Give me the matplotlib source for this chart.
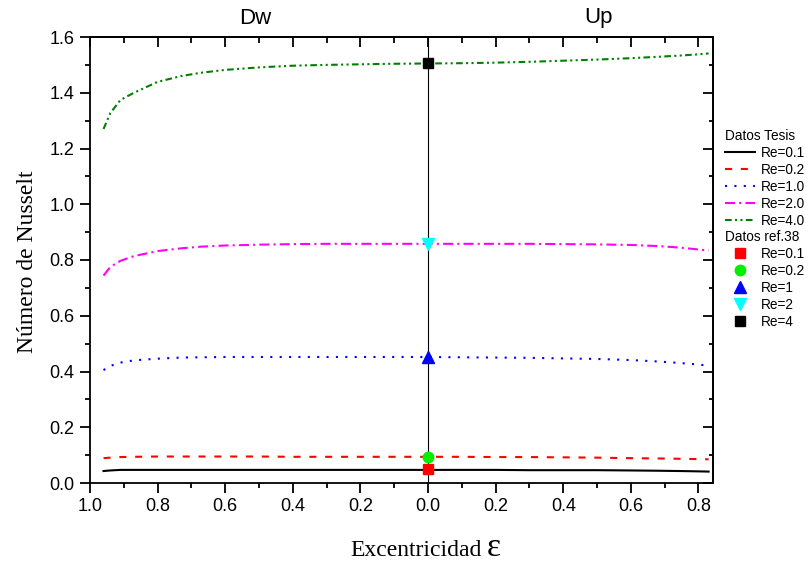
import matplotlib
matplotlib.use("Agg")
import matplotlib.pyplot as plt
import numpy as np

# ---------------- data ----------------
# signed eccentricity: negative = "Dw" side, positive = "Up" side
ecc = [-0.96, -0.94, -0.91, -0.87, -0.80, -0.73, -0.67, -0.60, -0.50, -0.40,
       -0.30, -0.20, -0.10, 0.0, 0.10, 0.20, 0.30, 0.40, 0.50, 0.60,
       0.68, 0.74, 0.79, 0.83]

nu_re01 = [0.043, 0.045, 0.047, 0.047, 0.047, 0.047, 0.047, 0.047, 0.047, 0.047,
           0.047, 0.047, 0.047, 0.047, 0.047, 0.047, 0.046, 0.046, 0.046, 0.045,
           0.044, 0.043, 0.042, 0.041]
nu_re02 = [0.089, 0.091, 0.093, 0.094, 0.095, 0.095, 0.095, 0.095, 0.095, 0.094,
           0.094, 0.094, 0.094, 0.094, 0.094, 0.093, 0.093, 0.092, 0.091, 0.089,
           0.088, 0.087, 0.086, 0.085]
nu_re10 = [0.405, 0.420, 0.432, 0.440, 0.446, 0.450, 0.451, 0.452, 0.452, 0.452,
           0.452, 0.452, 0.452, 0.452, 0.451, 0.450, 0.449, 0.447, 0.445, 0.441,
           0.436, 0.431, 0.426, 0.421]
nu_re20 = [0.744, 0.775, 0.797, 0.814, 0.832, 0.842, 0.848, 0.852, 0.855, 0.857,
           0.858, 0.858, 0.858, 0.858, 0.858, 0.858, 0.858, 0.857, 0.856, 0.854,
           0.850, 0.845, 0.839, 0.834]
nu_re40 = [1.270, 1.327, 1.374, 1.400, 1.439, 1.460, 1.472, 1.482, 1.491, 1.497,
           1.500, 1.502, 1.504, 1.505, 1.506, 1.508, 1.511, 1.515, 1.519, 1.524,
           1.529, 1.533, 1.537, 1.541]

tesis_labels = ["Re=0.1", "Re=0.2", "Re=1.0", "Re=2.0", "Re=4.0"]

ref_ecc = [0.0, 0.0, 0.0, 0.0, 0.0]
ref_nu = [0.049, 0.093, 0.451, 0.857, 1.507]
ref_labels = ["Re=0.1", "Re=0.2", "Re=1", "Re=2", "Re=4"]

xtick_vals = [-1.0, -0.8, -0.6, -0.4, -0.2, 0.0, 0.2, 0.4, 0.6, 0.8]
xtick_labels = ["1.0", "0.8", "0.6", "0.4", "0.2", "0.0", "0.2", "0.4", "0.6", "0.8"]
ytick_vals = [0.0, 0.2, 0.4, 0.6, 0.8, 1.0, 1.2, 1.4, 1.6]
ytick_labels = ["0.0", "0.2", "0.4", "0.6", "0.8", "1.0", "1.2", "1.4", "1.6"]

# ---------------- figure ----------------
SANS = "Liberation Sans"
SERIF = "Liberation Serif"
plt.rcParams["font.family"] = [SANS, "DejaVu Sans"]

W, H = 810, 564
fig = plt.figure(figsize=(W / 100, H / 100), dpi=100)
L, R, T, B = 90, 713, 37, 483
ax = fig.add_axes([L / W, 1 - B / H, (R - L) / W, (B - T) / H])

lw = 1.5
ax.axvline(0.0, color="black", lw=0.8, zorder=1)

line_styles = [
    dict(color="black", ls="-"),
    dict(color="#ff0000", ls=(0, (3.4, 4.2))),
    dict(color="#0000ff", ls=(0, (1.0, 3.5))),
    dict(color="#ff00ff", ls=(0, (4.8, 2.0, 1.0, 2.0))),
    dict(color="#008000", ls=(0, (3.2, 1.6, 1.0, 1.6, 1.0, 1.6))),
]
series = [nu_re01, nu_re02, nu_re10, nu_re20, nu_re40]
tesis_handles = []
for ys, st, lab in zip(series, line_styles, tesis_labels):
    h, = ax.plot(ecc, ys, color=st["color"], linestyle=st["ls"], lw=lw, label=lab, zorder=2)
    tesis_handles.append(h)

marker_styles = [
    dict(marker="s", color="#ff0000", ms=6.5),
    dict(marker="o", color="#00ee00", ms=7.5),
    dict(marker="^", color="#0000ff", ms=8),
    dict(marker="v", color="#00ffff", ms=8),
    dict(marker="s", color="black", ms=6.5),
]
ref_handles = []
for x, y, st, lab in zip(ref_ecc, ref_nu, marker_styles, ref_labels):
    h, = ax.plot([x], [y], linestyle="none", marker=st["marker"], color=st["color"],
                 ms=st["ms"], mec=st["color"], label=lab, zorder=3)
    ref_handles.append(h)

ax.set_xlim(-1.0, 0.843)
ax.set_ylim(0.0, 1.6)
ax.set_xticks(xtick_vals)
ax.set_xticklabels(xtick_labels)
ax.set_xticks(np.arange(-0.9, 0.85, 0.2), minor=True)
ax.set_yticks(ytick_vals)
ax.set_yticklabels(ytick_labels)
ax.set_yticks(np.arange(0.1, 1.6, 0.2), minor=True)

for sp in ax.spines.values():
    sp.set_linewidth(1.3)

ax.tick_params(axis="both", which="major", direction="out", length=7, width=1.3,
               labelsize=13, pad=4)
ax.tick_params(axis="both", which="minor", direction="out", length=3.6, width=1.3)

# top and right ticks pointing inward
top = ax.secondary_xaxis("top")
top.set_xticks(xtick_vals)
top.set_xticks(np.arange(-0.9, 0.85, 0.2), minor=True)
top.tick_params(which="major", direction="in", length=7, width=1.3, labeltop=False)
top.tick_params(which="minor", direction="in", length=4, width=1.3)
top.spines["top"].set_linewidth(1.3)
right = ax.secondary_yaxis("right")
right.set_yticks(ytick_vals)
right.set_yticks(np.arange(0.1, 1.6, 0.2), minor=True)
right.tick_params(which="major", direction="in", length=7, width=1.3, labelright=False)
right.tick_params(which="minor", direction="in", length=3.2, width=1.3)
right.spines["right"].set_linewidth(1.3)

# axis labels
fig.text(28 / W, 1 - 262 / H, "Número de Nusselt", rotation=90, ha="center",
         va="center", fontsize=17, family=[SERIF, "DejaVu Serif"])
fig.text(482 / W, 1 - 556 / H, "Excentricidad", ha="right", va="baseline",
         fontsize=17, family=[SERIF, "DejaVu Serif"])
fig.text(487 / W, 1 - 556 / H, "ε", ha="left", va="baseline",
         fontsize=24, family=[SERIF, "DejaVu Serif"])

# Dw / Up
fig.text(255 / W, 1 - 18 / H, "Dw", ha="center", va="center", fontsize=16)
fig.text(598 / W, 1 - 18 / H, "Up", ha="center", va="center", fontsize=16)

# legends
leg_kw = dict(frameon=False, fontsize=9.8, title_fontsize=9.8, handlelength=2.2,
              handletextpad=0.45, labelspacing=0.22, borderpad=0.0,
              borderaxespad=0.0, alignment="left", loc="upper left", numpoints=1)
leg1 = fig.legend(handles=tesis_handles, title="Datos Tesis",
                  bbox_to_anchor=(725 / W, 1 - 129 / H), **leg_kw)
leg2 = fig.legend(handles=ref_handles, title="Datos ref.38",
                  bbox_to_anchor=(725 / W, 1 - 230 / H), **leg_kw)

fig.savefig("out.png", dpi=100)
